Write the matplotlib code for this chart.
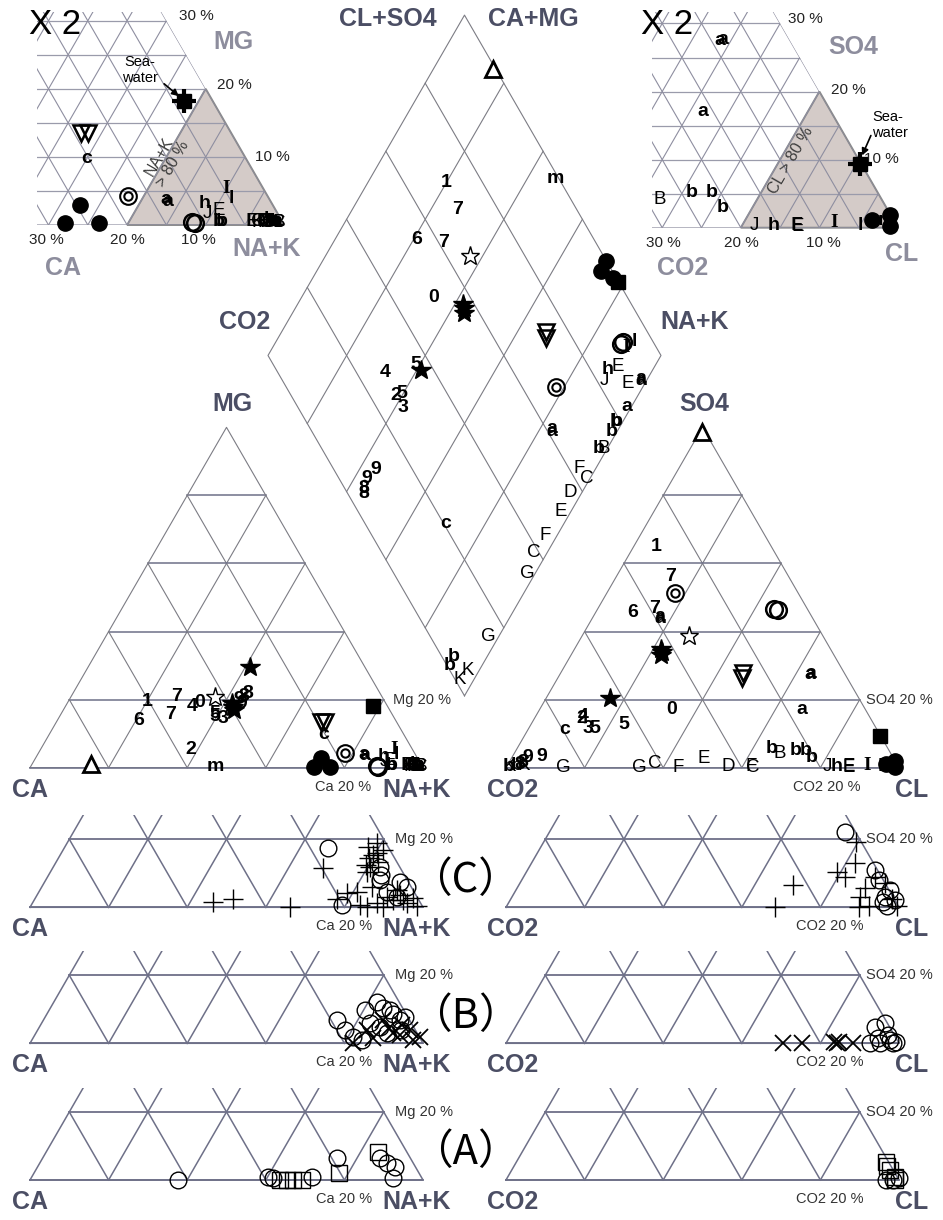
import numpy as np
import matplotlib.pyplot as plt
from matplotlib.patches import Polygon, Rectangle
from matplotlib.path import Path

plt.rcParams['font.family'] = ['Liberation Sans', 'DejaVu Sans']

# samples: symbol, cation Mg and Na+K (%), anion SO4 and Cl (%)
glyph = ['tri', 'star', 'star', 'star', 'star', 'ostar', 'sq', 'dot', 'dot', 'dot',
         'itri', 'itri', 'bull', 'ring', 'ring',
         '1', '6', '7', '7', '4', '0', '5', '5', '3', '2', '8', '8', '9', '9',
         'c', 'm', 'a', 'a', 'a', 'a', 'a', 'J', 'h', 'E', 'E', 'I', 'l',
         'b', 'b', 'b', 'B', 'b', 'F', 'C', 'D', 'E', 'F', 'C', 'G', 'G',
         'b', 'b', 'K', 'K']
cat_mg = [1.0, 29.7, 17.9, 19.0, 17.0, 20.7, 18.2, 2.9, 0.3, 0.3,
          13.5, 13.5, 4.2, 0.3, 0.5,
          19.4, 13.8, 20.9, 15.5, 18.1, 19.1, 15.0, 16.0, 14.5, 5.4, 21.9, 21.0, 19.0, 20.0,
          9.7, 0.3, 3.5, 3.8, 0.5, 0.6, 0.5, 1.7, 3.2, 2.2, 0.5, 5.4, 3.9,
          0.5, 0.5, 0.8, 0.3, 0.5, 0.5, 0.3, 0.5, 0.5, 0.5, 0.5, 0.3, 0.3,
          0.5, 0.5, 0.3, 0.3]
cat_na = [15.0, 41.1, 42.8, 42.0, 43.5, 36.7, 78.2, 72.5, 72.0, 76.3,
          67.4, 68.3, 78.0, 88.5, 88.0,
          20.0, 20.7, 26.9, 28.0, 32.3, 33.7, 39.6, 39.0, 41.9, 38.3, 44.6, 44.0, 44.3, 43.1,
          70.0, 47.0, 83.4, 83.0, 98.5, 98.4, 98.8, 89.4, 88.3, 90.5, 95.6, 89.9, 91.3,
          98.3, 98.7, 97.7, 99.2, 98.5, 95.7, 99.2, 97.1, 97.5, 96.9, 96.4, 97.9, 97.5,
          91.4, 91.8, 97.2, 96.5]
an_so4 = [98.7, 20.4, 34.1, 35.0, 33.0, 38.8, 9.3, 1.1, 1.9, 0.3,
          27.7, 26.3, 51.4, 46.3, 46.5,
          65.0, 45.5, 56.1, 46.8, 15.0, 17.0, 11.4, 12.6, 11.4, 14.5, 1.0, 1.5, 3.2, 3.0,
          11.1, 1.0, 43.9, 44.5, 27.5, 27.7, 17.1, 0.3, 0.3, 0.3, 0.2, 0.7, 0.3,
          5.1, 5.2, 5.7, 4.2, 2.9, 0.3, 0.2, 0.3, 2.8, 0.2, 1.3, 0.2, 0.2,
          0.5, 0.3, 0.5, 0.3]
an_cl = [0.6, 16.3, 22.6, 22.0, 23.0, 27.2, 90.5, 96.1, 98.0, 98.8,
         46.5, 47.0, 17.3, 46.1, 45.0,
         5.8, 9.4, 13.7, 14.3, 12.2, 33.7, 17.0, 23.7, 15.2, 12.0, 3.0, 3.5, 7.5, 4.0,
         9.5, 98.0, 17.3, 17.0, 63.6, 63.8, 66.6, 81.6, 84.0, 87.0, 87.2, 91.5, 95.0,
         73.7, 71.1, 64.8, 67.6, 76.2, 62.3, 62.8, 56.5, 48.8, 43.8, 37.3, 33.7, 14.6,
         2.4, 0.5, 4.2, 0.9]

# lower strips, (Mg, Na+K) and (SO4, Cl) in %
c_cat_plus = [(1.6, 45.8), (2.4, 50.5), (0.0, 66.2), (11.5, 68.9), (17.8, 77.2), (15.4, 79.7),
              (11.9, 80.5), (13.4, 81.9), (10.5, 80.5), (16.8, 81.5), (18.8, 78.8), (4.1, 78.5),
              (4.6, 80.8), (2.4, 76.8), (0.7, 83.6), (1.2, 87.6), (2.1, 91.4), (3.6, 92.3),
              (0.4, 98.2), (3.1, 89.2), (1.2, 95.3), (0.2, 89.8), (0.2, 85.6), (5.1, 90.8),
              (2.6, 96.2), (14.5, 79.0), (12.5, 79.2), (16.0, 80.3), (6.0, 84.0), (2.0, 94.0)]
c_cat_ring = [(17.3, 67.1), (0.7, 79.0), (8.0, 85.0), (7.5, 90.4), (6.1, 92.8), (4.6, 88.5),
              (11.9, 83.1), (9.5, 84.5), (3.0, 92.0)]
c_an_plus = [(0.0, 68.4), (6.5, 69.8), (10.5, 78.9), (9.0, 81.8), (12.9, 82.4), (19.3, 79.5),
             (3.1, 88.5), (0.2, 89.6), (5.6, 88.5), (0.3, 99.4), (9.0, 89.4), (0.5, 92.0),
             (7.0, 93.0), (2.5, 97.0)]
c_an_ring = [(22.2, 75.2), (10.9, 88.5), (5.1, 95.1), (1.7, 95.2), (0.3, 96.9), (3.1, 94.8),
             (8.0, 91.0), (2.0, 98.0)]
b_cat_ring = [(6.8, 74.6), (3.9, 78.2), (9.8, 80.3), (12.2, 82.1), (9.8, 86.7), (4.9, 86.6),
              (1.0, 83.9), (2.9, 89.3), (6.8, 90.7), (7.8, 91.5), (1.9, 81.3), (5.9, 83.6),
              (8.5, 88.0), (4.0, 92.5), (10.5, 84.5)]
b_cat_cross = [(0.0, 82.3), (1.5, 86.6), (2.9, 91.0), (3.9, 94.7), (1.9, 98.3), (3.9, 83.7),
               (6.8, 86.5), (1.0, 97.0), (4.5, 89.0), (2.5, 93.0), (5.5, 92.0)]
b_an_cross = [(0.0, 70.6), (0.0, 75.2), (0.5, 83.1), (0.0, 84.1), (0.3, 84.6), (0.0, 88.4)]
b_an_ring = [(4.9, 91.4), (5.9, 93.5), (0.0, 95.2), (1.0, 97.2), (0.0, 98.6), (0.0, 92.6),
             (2.5, 96.0), (1.5, 94.0), (0.5, 99.0)]
a_cat_ring = [(0.0, 37.7), (0.8, 60.2), (0.5, 61.7), (0.8, 71.3), (6.5, 74.8), (6.4, 85.9),
              (4.9, 88.3), (3.9, 90.9), (0.5, 92.2)]
a_cat_box = [(0.0, 63.6), (0.0, 67.0), (0.0, 69.1), (2.0, 77.5), (8.3, 84.5), (0.0, 65.5)]
a_an_box = [(5.4, 94.0), (2.9, 96.2), (0.0, 99.0), (4.0, 95.0), (1.0, 98.5)]
a_an_ring = [(0.0, 96.7), (0.0, 98.5), (0.5, 99.8)]

SIDE = 393.0
SQ = np.sqrt(3) / 2
CAT_X0, ANI_X0, BASE_Y = 30.0, 506.0, 767.7
DIA_X = (CAT_X0 + SIDE + ANI_X0) / 2
DIA_Y = BASE_Y - (ANI_X0 - CAT_X0 - SIDE) * SQ
STRIP_Y = [907.3, 1043.3, 1180.0]

LABEL = '#4b4e64'
PALE = '#8d8d9d'
HLINE = '#6e7088'
DLINE = '#7c7c84'


def tri_xy(top, right, x0, yb, side=SIDE):
    top = np.asarray(top, float)
    right = np.asarray(right, float)
    return x0 + side * (right + top / 2) / 100, yb - side * SQ * top / 100


def dia_sc(s, c):
    s = np.asarray(s, float)
    c = np.asarray(c, float)
    return DIA_X + SIDE / 2 * (s - c) / 100, DIA_Y - SIDE * SQ * (s + c) / 100


def tri_grid(ax, x0, yb, side, step, hcol, hlw, dcol, dlw, clip=None):
    arts = []
    for k in range(step, 100, step):
        x, y = tri_xy([k, k], [0, 100 - k], x0, yb, side)
        arts += ax.plot(x, y, color=hcol, lw=hlw)
        x, y = tri_xy([0, 100 - k], [k, k], x0, yb, side)
        arts += ax.plot(x, y, color=dcol, lw=dlw)
        x, y = tri_xy([0, 100 - k], [100 - k, 0], x0, yb, side)
        arts += ax.plot(x, y, color=dcol, lw=dlw)
    x, y = tri_xy([0, 0, 100, 0], [0, 100, 0, 0], x0, yb, side)
    arts += ax.plot(x, y, color=dcol, lw=dlw)
    arts += ax.plot(x[:2], y[:2], color=hcol, lw=hlw)
    if clip is not None:
        for a in arts:
            a.set_clip_path(clip)
    return arts


def mark(ax, g, x, y, inset=False):
    if g == 'dot':
        ax.plot(x, y, 'o', ms=11, color='k', zorder=5)
    elif g == 'sq':
        ax.plot(x, y, 's', ms=10, color='k', zorder=5)
        if inset:
            ax.plot(x, y, '+', ms=17, mew=3, color='k', zorder=5)
    elif g == 'star':
        ax.plot(x, y, '*', ms=15, color='k', zorder=5)
    elif g == 'ostar':
        ax.plot(x, y, '*', ms=14, mfc='white', mec='k', mew=1, zorder=5)
    elif g == 'tri':
        ax.plot(x, y, '^', ms=11, mfc='white', mec='k', mew=2, zorder=5)
    elif g == 'itri':
        ax.plot(x, y, 'v', ms=11, mfc='none', mec='k', mew=1.8, zorder=5)
    elif g == 'bull':
        ax.plot(x, y, 'o', ms=12, mfc='none', mec='k', mew=1.5, zorder=5)
        ax.plot(x, y, 'o', ms=6, mfc='none', mec='k', mew=1.5, zorder=5)
    elif g == 'ring':
        ax.plot(x, y, 'o', ms=12, mfc='none', mec='k', mew=1.8, zorder=5)
    elif g == 'I':
        ax.text(x, y, g, ha='center', va='center', fontsize=14, fontweight='bold',
                family=['Liberation Serif'], zorder=6)
    else:
        bold = g.islower() or g.isdigit()
        ax.text(x, y, g, ha='center', va='center', fontsize=14 if bold else 13.5,
                fontweight='bold' if bold else 'normal', zorder=6)


def corner_labels(ax, x0, yb, names, small, dl, dr, dsr, dsb):
    ax.text(x0 + dl, yb + 22, names[0], ha='center', va='center', fontsize=18,
            fontweight='bold', color=LABEL)
    ax.text(x0 + SIDE + dr, yb + 22, names[1], ha='center', va='center', fontsize=18,
            fontweight='bold', color=LABEL)
    ax.text(x0 + SIDE * 0.9 + dsr, yb - SIDE * SQ * 0.2, small[0], ha='left', va='center',
            fontsize=10.5, color='#333333')
    ax.text(x0 + SIDE * 0.8 + dsb, yb + 19, small[1], ha='center', va='center',
            fontsize=10.5, color='#333333')


fig = plt.figure(figsize=(9.43, 12.2), dpi=100)
ax = fig.add_axes([0, 0, 1, 1])
ax.set_xlim(0, 943)
ax.set_ylim(1220, 0)
ax.axis('off')

# main cation and anion triangles
for x0 in (CAT_X0, ANI_X0):
    tri_grid(ax, x0, BASE_Y, SIDE, 20, HLINE, 1.1, DLINE, 0.8)
ax.text(CAT_X0 + SIDE / 2 + 6, BASE_Y - SIDE * SQ - 23, 'MG', ha='center', va='center',
        fontsize=18, fontweight='bold', color=LABEL)
ax.text(ANI_X0 + SIDE / 2 + 2, BASE_Y - SIDE * SQ - 23, 'SO4', ha='center', va='center',
        fontsize=18, fontweight='bold', color=LABEL)
corner_labels(ax, CAT_X0, BASE_Y, ('CA', 'NA+K'), ('Mg 20 %', 'Ca 20 %'), 0, -6, 9, -1)
corner_labels(ax, ANI_X0, BASE_Y, ('CO2', 'CL'), ('SO4 20 %', 'CO2 20 %'), 7, 13, 6, 6)

# diamond
for k in range(20, 100, 20):
    x, y = dia_sc([k, k], [0, 100])
    ax.plot(x, y, color=DLINE, lw=0.8)
    x, y = dia_sc([0, 100], [k, k])
    ax.plot(x, y, color=DLINE, lw=0.8)
x, y = dia_sc([0, 100, 100, 0, 0], [0, 0, 100, 100, 0])
ax.plot(x, y, color=DLINE, lw=0.8)
for txt, px, py in [('CL+SO4', 388, 19), ('CA+MG', 533, 19), ('CO2', 245, 322), ('NA+K', 695, 322)]:
    ax.text(px, py, txt, ha='center', va='center', fontsize=18, fontweight='bold', color=LABEL)

# sample points in the triangles and the diamond
for g, mg, na, so4, cl in zip(glyph, cat_mg, cat_na, an_so4, an_cl):
    mark(ax, g, *tri_xy(mg, na, CAT_X0, BASE_Y))
    mark(ax, g, *tri_xy(so4, cl, ANI_X0, BASE_Y))
    mark(ax, g, *dia_sc(so4 + cl, 100 - na))


# enlarged corners (x 2)
def corner_inset(vx, vy, xmin, ymin, tops, rights, title, edge_pcts, base_pcts, names, shade_txt):
    side2 = 2 * SIDE
    x0 = vx - side2
    t = (vy - ymin) / (side2 * SQ)
    poly = [(xmin, vy), (vx, vy), (vx - t * side2 / 2, ymin), (xmin, ymin)]
    clip = Polygon(poly, closed=True, transform=ax.transData, fill=False, lw=0)
    ax.add_patch(clip)
    sx, sy = tri_xy([0, 0, 20], [80, 100, 80], x0, vy, side2)
    ax.add_patch(Polygon(np.c_[sx, sy], closed=True, fc='#d4cbc8', ec='#8a8a8a', lw=1.4, zorder=1))
    tri_grid(ax, x0, vy, side2, 5, '#9a9bab', 0.9, '#8e8ea0', 0.8, clip=clip)
    region = Path(poly)
    for g, a, b in zip(glyph, tops, rights):
        px, py = tri_xy(a, b, x0, vy, side2)
        if region.contains_point((px, py)):
            mark(ax, g, px, py, inset=True)
    ax.text(xmin + 18 if xmin < 100 else xmin + 15, 25, title, ha='center', va='center',
            fontsize=25, color='k')
    for p, dx, dy in edge_pcts:
        ex, ey = tri_xy(p, 100 - p, x0, vy, side2)
        ax.text(ex + dx, ey + dy, f'{p} %', ha='center', va='center', fontsize=11, color='#222222')
    for p, dx in base_pcts:
        bx, by = tri_xy(0, 100 - p, x0, vy, side2)
        ax.text(bx + dx, vy + 15, f'{p} %', ha='center', va='center', fontsize=11, color='#222222')
    for txt, px, py in names:
        ax.text(px, py, txt, ha='center', va='center', fontsize=18, fontweight='bold', color=PALE)
    txt, px, py = shade_txt
    ax.text(px, py, txt, ha='center', va='center', rotation=60, fontsize=11.5,
            color='#3c3c3c', linespacing=1.0)


corner_inset(284.3, 225.0, 37, 12, cat_mg, cat_na, 'X 2',
             [(30, 30, -5), (20, 29, -4), (10, 27, 0)],
             [(30, -2), (20, 0), (10, -7)],
             [('MG', 233, 42), ('CA', 63, 268), ('NA+K', 267, 249)],
             ('NA+K\n> 80 %', 166, 160))
corner_inset(898.0, 227.7, 652, 12, an_so4, an_cl, 'X 2',
             [(30, 25, -4), (20, 29, -2), (10, 23, -1)],
             [(30, 1), (20, 1), (10, 4)],
             [('SO4', 853, 47), ('CO2', 683, 268), ('CL', 902, 254)],
             ('CL > 80 %', 791, 160))
ax.text(140, 70, 'Sea-\nwater', ha='center', va='center', fontsize=10.5, linespacing=1.2)
ax.annotate('', xy=(181, 98), xytext=(162, 82),
            arrowprops=dict(arrowstyle='-|>', color='k', lw=1.2, mutation_scale=10))
ax.text(872, 125, 'Sea-\nwater', ha='left', va='center', fontsize=10.5, linespacing=1.2)
ax.annotate('', xy=(861, 158), xytext=(872, 133),
            arrowprops=dict(arrowstyle='-|>', color='k', lw=1.2, mutation_scale=10))

# lower strips (C), (B), (A)
strip_sets = [
    ('（C）', [(c_cat_plus, '+'), (c_cat_ring, 'o')], [(c_an_plus, '+'), (c_an_ring, 'o')]),
    ('（B）', [(b_cat_ring, 'o'), (b_cat_cross, 'x')], [(b_an_cross, 'x'), (b_an_ring, 'o')]),
    ('（A）', [(a_cat_ring, 'o'), (a_cat_box, 's')], [(a_an_box, 's'), (a_an_ring, 'o')]),
]
style = {'+': dict(ms=15, mew=1.0, color='k'),
         'x': dict(ms=11, mew=1.3, color='k'),
         'o': dict(ms=12, mew=1.0, mfc='none', mec='k'),
         's': dict(ms=12, mew=1.0, mfc='none', mec='k')}
for yb, (tag, cat_groups, an_groups) in zip(STRIP_Y, strip_sets):
    for x0, groups in ((CAT_X0, cat_groups), (ANI_X0, an_groups)):
        rect = Rectangle((x0 - 10, yb - 92), SIDE + 20, 95, transform=ax.transData)
        tri_grid(ax, x0, yb, SIDE, 20, HLINE, 1.3, '#6e7088', 1.1, clip=rect)
        for pts, m in groups:
            a = [p[0] for p in pts]
            b = [p[1] for p in pts]
            px, py = tri_xy(a, b, x0, yb)
            ax.plot(px, py, m, linestyle='none', zorder=5, **style[m])
    corner_labels(ax, CAT_X0, yb, ('CA', 'NA+K'), ('Mg 20 %', 'Ca 20 %'), 0, -6, 11, 0)
    corner_labels(ax, ANI_X0, yb, ('CO2', 'CL'), ('SO4 20 %', 'CO2 20 %'), 7, 13, 6, 9)
    ax.text(465, yb - 27, tag, ha='center', va='center', fontsize=30,
            family=['Noto Sans CJK JP', 'DejaVu Sans'], color='k')

fig.savefig('out.png', dpi=100)
